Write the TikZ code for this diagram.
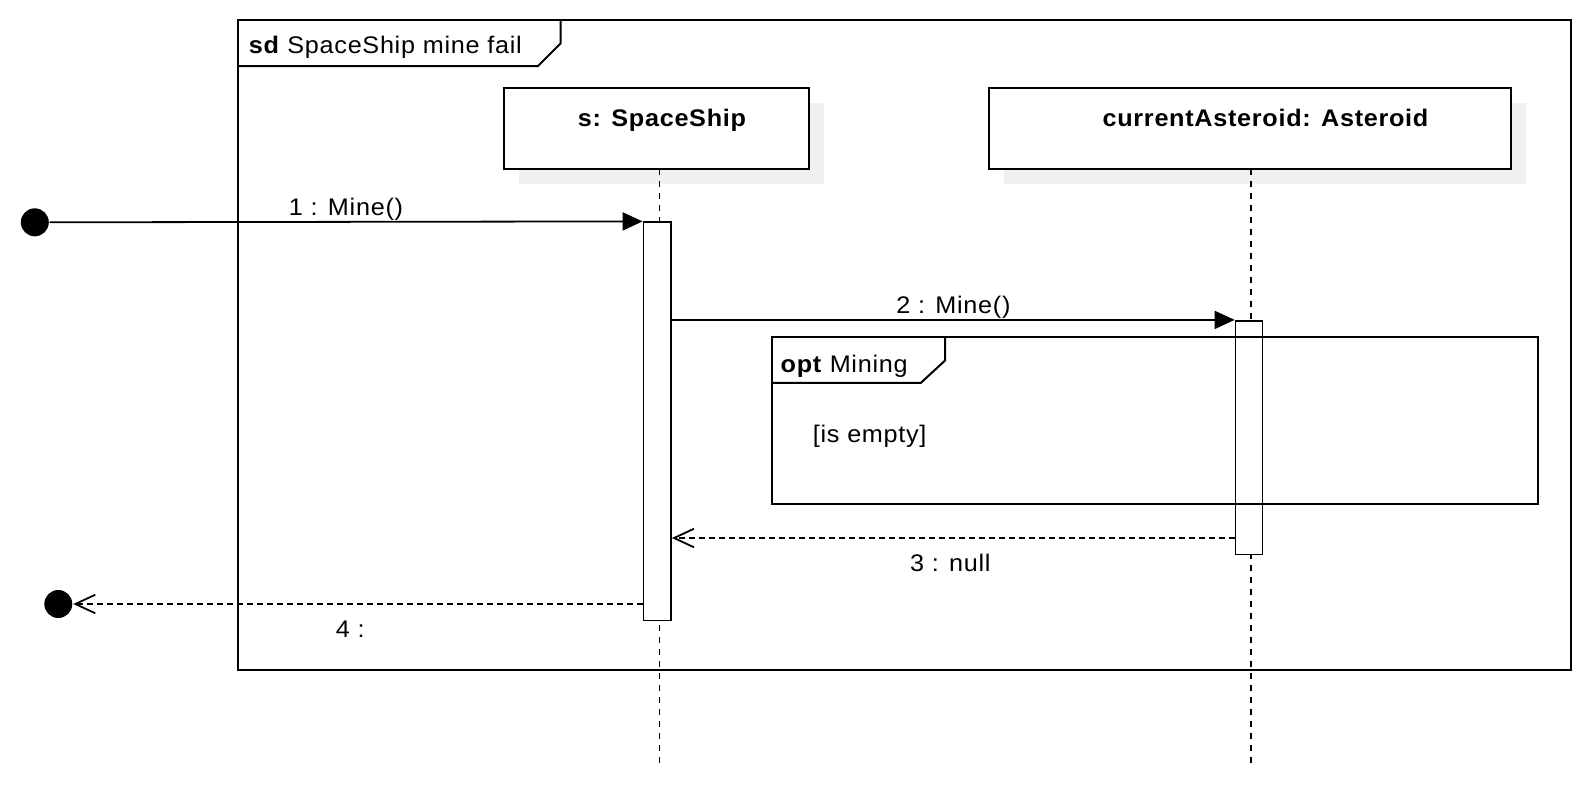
\documentclass[tikz,border=0pt]{standalone}
\usepackage{fontspec}
\setmainfont{Liberation Sans}[FakeStretch=1.05, LetterSpace=3]
\usetikzlibrary{arrows.meta}
\tikzset{
  lbl/.style={font=\fontsize{12pt}{14pt}\selectfont, inner sep=0pt, anchor=base},
  lblw/.style={lbl, anchor=base west},
  objtxt/.style={font=\fontsize{12pt}{14pt}\selectfont\bfseries, inner sep=0pt, anchor=base},
  objbox/.style={draw, fill=white, inner sep=0pt, minimum height=40.75pt},
  shadowbox/.style={fill=black!6, inner sep=0pt, minimum height=40.75pt},
  actbar/.style={draw, fill=white, inner sep=0pt},
  lifeline/.style={dash pattern=on 3pt off 3pt},
  dot/.style={circle, fill=black, inner sep=0pt, minimum size=14pt},
  syncmsg/.style={-{Triangle[length=10pt,width=9pt]}},
  retmsg/.style={dash pattern=on 3pt off 2pt, -{Straight Barb[length=10pt,width=9.3pt]}},
  frameline/.style={line width=1pt}
}
\begin{document}
\begin{tikzpicture}[x=0.5pt,y=-0.5pt,line width=0.9pt]
\useasboundingbox (0,0) rectangle (1592,788);
% outer frame
\node[draw, frameline, inner sep=0pt, minimum width=666.5pt, minimum height=325pt] (sdframe) at (904,345) {};
\draw[frameline] (237.5,66) -- (538,66) -- (560.5,43.5) -- (560.5,20);
\node[lblw] (sdtitle) at (248,53) {\textbf{sd} SpaceShip mine fail};
% lifeline heads (shadows first)
\node[shadowbox, minimum width=152.9pt] (ssshadow) at (671.4,143.25) {};
\node[shadowbox, minimum width=260.75pt] (ashadow) at (1264.75,143.25) {};
\node[objbox, frameline, minimum width=152.9pt] (ss) at (656.4,128.25) {};
\node[objbox, frameline, minimum width=260.75pt] (ast) at (1249.75,128.25) {};
\node[objtxt] (sstxt) at (662,126.7) {s: SpaceShip};
\node[objtxt] (asttxt) at (1265.5,126.7) {currentAsteroid: Asteroid};
% lifelines
\coordinate (ssl) at (659.5,169);
\coordinate (ssle) at (659.5,763.5);
\coordinate (al) at (1251,169);
\coordinate (ale) at (1251,763.5);
\draw[lifeline] (ssl) -- (ssle);
\draw[lifeline] (al) -- (ale);
% activation bars
\node[actbar, minimum width=13.75pt, minimum height=199.05pt] (ssbar) at (657.25,421.35) {};
\node[actbar, minimum width=13.45pt, minimum height=116.8pt] (abar) at (1249,437.6) {};
% opt frame
\node[draw, frameline, inner sep=0pt, minimum width=383.3pt, minimum height=83.3pt] (optframe) at (1154.9,420.3) {};
\draw[frameline] (771.6,382.8) -- (920.9,382.8) -- (945.2,360.4) -- (945.2,337);
\node[lblw] (opttxt) at (779.8,372) {\textbf{opt} Mining};
\node[lblw] (guard) at (812,442) {[is empty]};
% start / end points
\node[dot] (start) at (34.8,222.3) {};
\node[dot] (finish) at (58.3,604) {};
% messages
\draw[syncmsg] (start.east) -- (ssbar.north west);
\node[lbl] (m1lbl) at (346,215) {1 : Mine()};
\draw[syncmsg] (ssbar.east |- abar.north west) -- (abar.north west);
\node[lbl] (m2lbl) at (953.4,313.5) {2 : Mine()};
\coordinate (m3s) at (abar.west |- 0,538);
\draw[retmsg] (m3s) -- (ssbar.east |- m3s);
\node[lbl] (m3lbl) at (950.3,571) {3 : null};
\draw[retmsg] (ssbar.west |- finish) -- (finish.east);
\node[lbl] (m4lbl) at (350.3,637) {4 :};
\end{tikzpicture}
\end{document}
